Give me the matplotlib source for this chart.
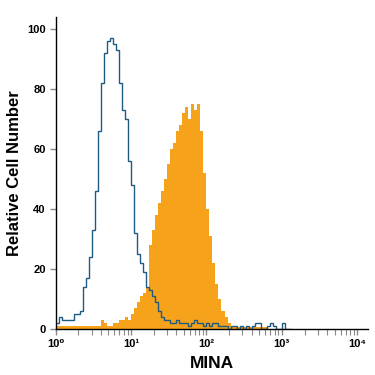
import numpy as np
import matplotlib
matplotlib.use('Agg')
import matplotlib.pyplot as plt

# histogram channels: 0.04-decade bins starting at 10^0
BIN_WIDTH = 0.04

# isotype control (blue outline)
control_counts = [2, 4, 3, 3, 3, 3, 5, 5, 6, 14,
                  17, 24, 33, 46, 66, 82, 92, 96, 97, 95,
                  93, 82, 73, 70, 56, 48, 32, 25, 22, 19,
                  14, 13, 11, 9, 6, 4, 3, 3, 2, 2,
                  3, 2, 2, 2, 1, 2, 3, 2, 2, 1,
                  2, 1, 2, 2, 1, 1, 1, 0, 1, 1,
                  0, 1, 0, 1, 0, 1, 2, 2, 0, 0,
                  1, 2, 1, 0, 0, 2, 0, 0]

# MINA stained cells (orange fill)
mina_counts = [1, 1, 1, 1, 1, 1, 1, 1, 1, 1,
               1, 1, 1, 1, 1, 3, 2, 1, 1, 2,
               2, 3, 3, 4, 3, 5, 7, 9, 11, 12,
               14, 28, 33, 38, 42, 46, 50, 55, 60, 62,
               66, 68, 72, 74, 70, 75, 73, 75, 66, 52,
               40, 31, 22, 15, 10, 6, 4, 2, 1, 0.5,
               0.5, 0.5, 0.5, 0.5, 0.5, 0.5, 0.5, 0.5, 0.5, 0.5]

x_ticks = [1, 10, 100, 1000, 10000]
x_tick_labels = ['10⁰', '10¹', '10²', '10³', '10⁴']
y_ticks = [0, 20, 40, 60, 80, 100]

plt.rcParams['font.family'] = ['Liberation Sans', 'DejaVu Sans']
plt.rcParams['font.weight'] = 'bold'

fig = plt.figure(figsize=(3.75, 3.75), dpi=100)
ax = fig.add_axes([0.148, 0.1227, 0.833, 0.8323])

edges_m = 10 ** (np.arange(len(mina_counts) + 1) * BIN_WIDTH)
edges_c = 10 ** (np.arange(len(control_counts) + 1) * BIN_WIDTH)

ax.stairs(mina_counts, edges_m, fill=True, color='#f7a21b', linewidth=0)
ax.stairs(control_counts, edges_c, baseline=None, color='#1f5a80', linewidth=1.0)

ax.set_xscale('log')
ax.set_xlim(1, 10 ** 4.14)
ax.set_ylim(0, 104)

ax.set_xticks(x_ticks)
ax.set_xticklabels(x_tick_labels, fontsize=8, fontweight='bold')
ax.set_yticks(y_ticks)
ax.set_yticklabels([str(v) for v in y_ticks], fontsize=8, fontweight='bold')

ax.tick_params(axis='both', which='major', direction='out', length=4, width=1,
               color='#8a8a8a', pad=3)
ax.tick_params(axis='x', which='minor', direction='out', length=4, width=0.8,
               color='#8a8a8a')

for s in ['top', 'right']:
    ax.spines[s].set_visible(False)
for s in ['left', 'bottom']:
    ax.spines[s].set_color('black')
    ax.spines[s].set_linewidth(1.0)

ax.set_xlabel('MINA', fontsize=12.5, fontweight='bold', labelpad=5)
ax.set_ylabel('Relative Cell Number', fontsize=12, fontweight='bold', labelpad=4)

fig.savefig('out.png', dpi=100)
